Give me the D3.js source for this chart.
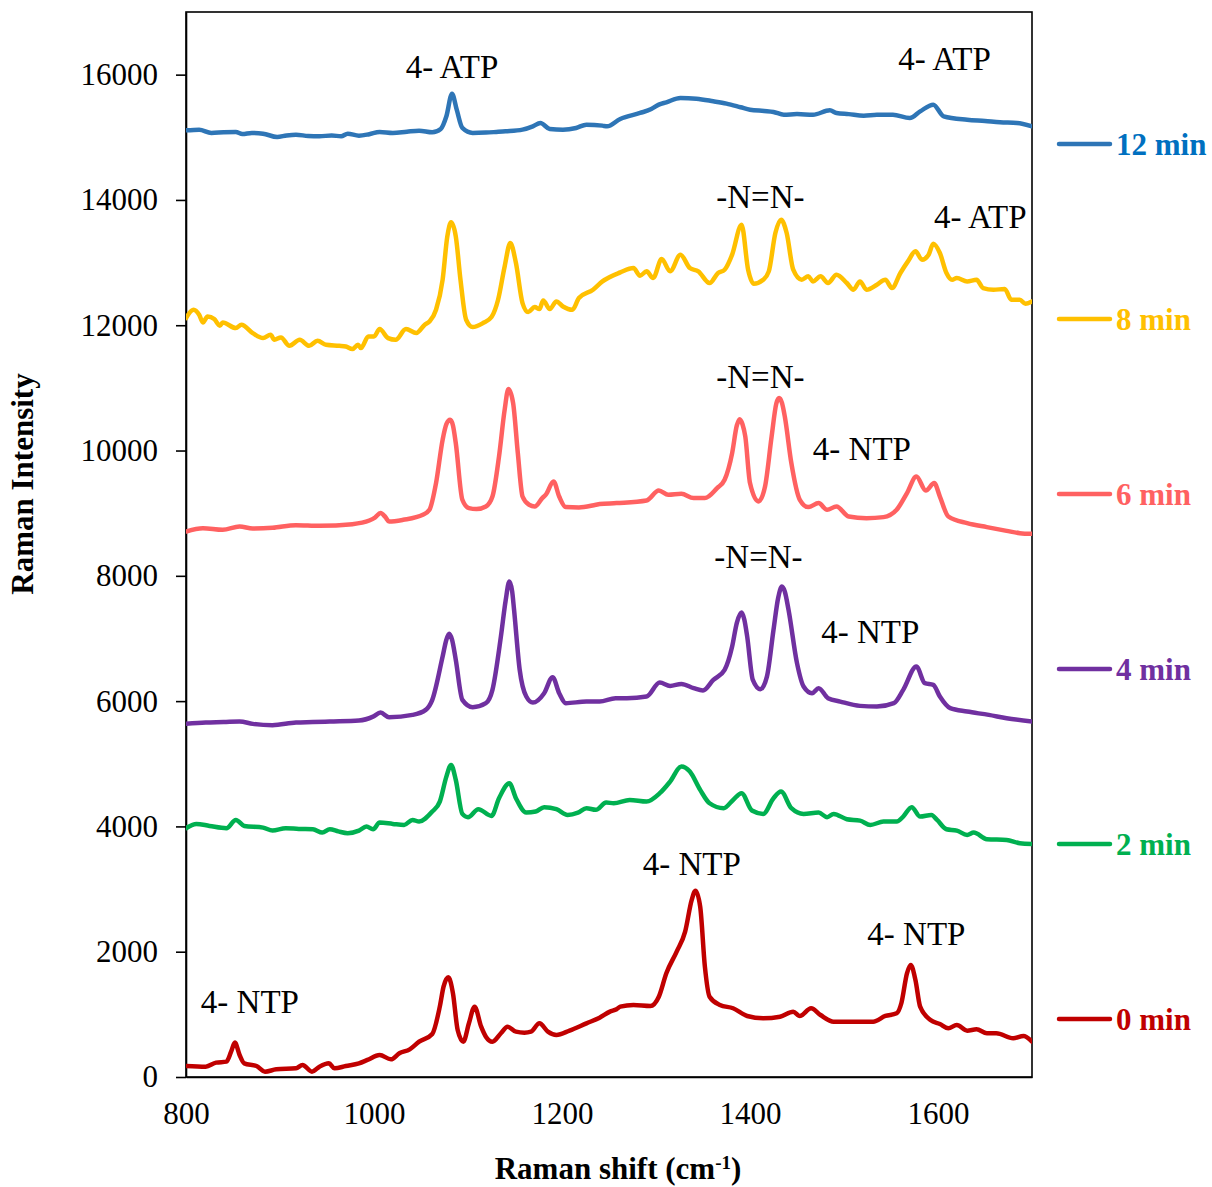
<!DOCTYPE html>
<html>
<head>
<meta charset="utf-8">
<script src="https://cdn.jsdelivr.net/npm/d3@7"></script>
<style>
  html, body { margin: 0; padding: 0; background: #ffffff; }
  svg { display: block; font-family: "Liberation Serif", "Times New Roman", serif; }
</style>
</head>
<body>
<svg id="chart" width="1212" height="1187"></svg>
<script>
// Raman spectra recorded at successive reaction times: [shift (cm-1), intensity]
const spectrum12min = [[800,15111],[814,15122],[827,15069],[840,15080],[853,15085],[860,15053],[870,15070],[882,15058],[897,15005],[907,15030],[917,15042],[930,15020],[942,15015],[955,15030],[965,15015],[972,15058],[984,15026],[995,15050],[1006,15085],[1020,15069],[1035,15090],[1048,15106],[1062,15080],[1071,15133],[1077,15335],[1083,15697],[1088,15441],[1094,15149],[1105,15069],[1119,15075],[1130,15085],[1140,15095],[1158,15122],[1169,15175],[1177,15228],[1187,15133],[1201,15122],[1215,15149],[1226,15202],[1243,15186],[1248,15175],[1262,15293],[1283,15388],[1295,15450],[1303,15521],[1311,15558],[1326,15628],[1343,15617],[1361,15575],[1375,15537],[1390,15480],[1400,15441],[1415,15420],[1425,15404],[1436,15361],[1450,15370],[1467,15361],[1485,15430],[1492,15388],[1505,15370],[1521,15345],[1535,15360],[1552,15361],[1570,15308],[1581,15414],[1595,15521],[1606,15335],[1631,15281],[1650,15260],[1666,15239],[1684,15228],[1700,15175]];

const spectrum8min = [[800,12115],[808,12247],[814,12168],[818,12045],[823,12141],[830,12099],[836,11992],[839,12045],[853,11955],[859,12008],[871,11875],[882,11795],[890,11848],[894,11768],[901,11805],[910,11672],[921,11768],[931,11672],[940,11752],[949,11688],[963,11672],[970,11661],[977,11619],[983,11688],[986,11635],[994,11821],[1000,11821],[1006,11939],[1015,11795],[1023,11768],[1034,11939],[1045,11875],[1054,12008],[1059,12061],[1066,12247],[1073,12726],[1078,13418],[1082,13642],[1087,13418],[1092,12726],[1098,12088],[1105,11971],[1116,12035],[1125,12131],[1132,12407],[1139,12939],[1145,13312],[1151,12993],[1158,12354],[1164,12210],[1171,12290],[1176,12258],[1180,12396],[1187,12258],[1194,12380],[1201,12300],[1211,12247],[1218,12434],[1233,12567],[1243,12700],[1262,12843],[1276,12913],[1283,12791],[1290,12860],[1297,12754],[1306,13057],[1315,12860],[1326,13126],[1336,12913],[1345,12860],[1357,12674],[1366,12834],[1373,12886],[1381,13126],[1391,13605],[1398,12886],[1404,12663],[1414,12726],[1420,12860],[1427,13472],[1433,13685],[1439,13472],[1446,12886],[1455,12726],[1462,12780],[1467,12700],[1475,12780],[1483,12674],[1492,12806],[1503,12674],[1510,12567],[1517,12700],[1524,12567],[1535,12647],[1544,12726],[1551,12594],[1560,12834],[1568,13019],[1576,13179],[1583,13046],[1590,13126],[1595,13302],[1602,13153],[1609,12834],[1615,12726],[1620,12754],[1631,12700],[1641,12726],[1648,12594],[1659,12567],[1671,12578],[1678,12407],[1687,12407],[1693,12343],[1700,12380]];

const spectrum6min = [[800,8707],[818,8761],[839,8734],[857,8787],[871,8755],[892,8766],[917,8809],[942,8798],[977,8825],[995,8883],[1001,8930],[1007,9001],[1012,8940],[1016,8867],[1031,8894],[1052,8974],[1059,9054],[1066,9480],[1073,10171],[1077,10420],[1081,10491],[1084,10400],[1087,10118],[1094,9214],[1101,9081],[1109,9065],[1119,9107],[1126,9266],[1133,9905],[1139,10651],[1143,10981],[1148,10757],[1153,9959],[1158,9266],[1165,9134],[1171,9107],[1179,9241],[1183,9300],[1191,9506],[1197,9266],[1204,9097],[1218,9091],[1236,9134],[1240,9145],[1258,9161],[1290,9203],[1303,9362],[1313,9293],[1327,9309],[1340,9241],[1352,9241],[1365,9400],[1373,9533],[1381,9959],[1386,10400],[1389,10501],[1392,10420],[1395,10224],[1400,9480],[1409,9187],[1416,9427],[1423,10224],[1428,10750],[1431,10837],[1434,10760],[1437,10544],[1444,9799],[1453,9214],[1462,9097],[1473,9161],[1482,9054],[1492,9107],[1505,8947],[1524,8921],[1542,8937],[1556,9054],[1567,9320],[1577,9586],[1587,9362],[1596,9480],[1602,9266],[1611,8947],[1631,8841],[1652,8777],[1673,8718],[1687,8681],[1700,8670]];

const spectrum4min = [[800,5637],[821,5658],[840,5665],[857,5674],[871,5637],[892,5616],[917,5658],[935,5665],[953,5674],[984,5690],[999,5753],[1007,5817],[1016,5743],[1041,5780],[1055,5860],[1062,6020],[1073,6711],[1077,6980],[1080,7074],[1083,6980],[1087,6659],[1094,6020],[1105,5903],[1119,5967],[1126,6180],[1135,7031],[1140,7600],[1144,7909],[1147,7750],[1149,7457],[1155,6499],[1162,6073],[1169,5977],[1181,6127],[1190,6382],[1197,6127],[1204,5967],[1226,5993],[1240,5993],[1257,6047],[1269,6047],[1290,6073],[1304,6296],[1315,6243],[1327,6275],[1340,6207],[1350,6169],[1361,6339],[1373,6499],[1381,6871],[1386,7250],[1391,7414],[1394,7300],[1397,7031],[1403,6339],[1411,6191],[1418,6392],[1425,7138],[1430,7650],[1434,7829],[1437,7750],[1441,7457],[1450,6606],[1457,6233],[1466,6127],[1473,6207],[1483,6047],[1496,5993],[1517,5924],[1535,5913],[1553,5967],[1563,6180],[1577,6552],[1586,6286],[1595,6259],[1602,6073],[1613,5887],[1631,5833],[1654,5780],[1673,5727],[1700,5674]];

const spectrum2min = [[800,3971],[811,4040],[825,4008],[843,3971],[853,4104],[862,4008],[882,3981],[892,3933],[906,3971],[920,3960],[935,3955],[945,3901],[953,3955],[962,3920],[972,3891],[984,3933],[992,3997],[999,3955],[1006,4061],[1020,4040],[1032,4024],[1041,4104],[1048,4077],[1062,4237],[1070,4396],[1077,4795],[1082,4982],[1087,4743],[1094,4200],[1100,4147],[1111,4275],[1125,4168],[1133,4450],[1144,4690],[1151,4450],[1162,4221],[1172,4237],[1181,4307],[1194,4275],[1206,4184],[1217,4221],[1226,4291],[1236,4264],[1247,4381],[1255,4370],[1272,4423],[1290,4397],[1304,4530],[1315,4716],[1327,4955],[1336,4875],[1347,4583],[1357,4370],[1372,4291],[1382,4423],[1391,4530],[1402,4253],[1414,4200],[1425,4450],[1433,4556],[1444,4291],[1457,4200],[1473,4221],[1482,4147],[1489,4200],[1503,4115],[1517,4093],[1528,4024],[1542,4077],[1556,4077],[1563,4157],[1572,4307],[1581,4157],[1593,4184],[1599,4104],[1609,3955],[1620,3933],[1631,3864],[1638,3901],[1652,3796],[1673,3784],[1687,3732],[1700,3721]];

const spectrum0min = [[800,176],[821,165],[832,229],[843,245],[848,405],[852,549],[857,351],[862,218],[875,176],[884,85],[896,122],[917,138],[924,192],[934,85],[942,165],[952,218],[958,138],[970,176],[984,218],[993,272],[1006,351],[1018,282],[1027,378],[1038,442],[1048,564],[1062,687],[1070,1123],[1074,1442],[1079,1592],[1084,1336],[1089,750],[1095,564],[1101,857],[1107,1123],[1114,803],[1119,644],[1126,564],[1135,698],[1142,803],[1151,724],[1160,708],[1167,724],[1176,857],[1185,724],[1194,671],[1208,740],[1226,857],[1240,947],[1251,1043],[1258,1081],[1262,1123],[1276,1150],[1294,1134],[1303,1282],[1311,1656],[1322,2001],[1331,2320],[1338,2826],[1342,2975],[1347,2720],[1352,1762],[1357,1282],[1368,1150],[1382,1097],[1397,974],[1414,937],[1432,963],[1446,1043],[1453,974],[1465,1097],[1475,990],[1489,883],[1510,883],[1531,883],[1544,974],[1556,1017],[1561,1177],[1567,1656],[1571,1788],[1576,1549],[1581,1123],[1592,910],[1602,846],[1611,777],[1620,830],[1631,740],[1641,761],[1652,698],[1662,698],[1680,618],[1691,655],[1700,564]];

// Series order, names and colours (legend runs top to bottom)
const seriesNames  = ["12 min", "8 min", "6 min", "4 min", "2 min", "0 min"];
const seriesData   = [spectrum12min, spectrum8min, spectrum6min, spectrum4min, spectrum2min, spectrum0min];
const seriesColors = ["#2E75B6", "#FFC000", "#FF6161", "#7030A0", "#00B050", "#C00000"];
const labelColors  = ["#0070C0", "#FFC000", "#FF6161", "#7030A0", "#00B050", "#C00000"];

// Axis ticks
const xTicks = [800, 1000, 1200, 1400, 1600];
const yTicks = [0, 2000, 4000, 6000, 8000, 10000, 12000, 14000, 16000];

// Band assignments: label text, shift and intensity where the label sits
const bandLabels  = ["4- ATP", "4- ATP", "-N=N-", "4- ATP", "-N=N-", "4- NTP", "-N=N-", "4- NTP", "4- NTP", "4- NTP", "4- NTP"];
const bandShifts  = [1083, 1607, 1411, 1645, 1411, 1519, 1409, 1528, 1338, 1577, 868];
const bandHeights = [15950, 16080, 13870, 13550, 11000, 9850, 8120, 6930, 3230, 2110, 1020];

const svg = d3.select("#chart");
const margin = { left: 186, right: 180, top: 12, bottom: 110 };
const W = 1212, H = 1187;

const x = d3.scaleLinear().domain([800, 1700]).range([margin.left, W - margin.right]);
const y = d3.scaleLinear().domain([0, 17000]).range([H - margin.bottom, margin.top]);

svg.append("rect").attr("width", W).attr("height", H).attr("fill", "#fff");

// Plot frame
svg.append("rect")
  .attr("x", x(800)).attr("y", y(17000))
  .attr("width", x(1700) - x(800)).attr("height", y(0) - y(17000))
  .attr("fill", "none").attr("stroke", "#000").attr("stroke-width", 1.6);

// Y axis
const yAxis = svg.append("g")
  .attr("transform", `translate(${x(800)},0)`)
  .call(d3.axisLeft(y).tickValues(yTicks).tickFormat(d3.format("d")).tickSize(10).tickSizeOuter(0).tickPadding(18));
yAxis.select(".domain").attr("stroke", "#000").attr("stroke-width", 1.6);
yAxis.selectAll(".tick line").attr("stroke", "#000").attr("stroke-width", 1.6);
yAxis.selectAll(".tick text").attr("font-size", 31).attr("fill", "#000")
  .attr("font-family", "Liberation Serif");

// X axis
const xAxis = svg.append("g")
  .attr("transform", `translate(0,${y(0)})`)
  .call(d3.axisBottom(x).tickValues(xTicks).tickFormat(d3.format("d")).tickSize(0).tickPadding(25));
xAxis.select(".domain").attr("stroke", "#000").attr("stroke-width", 1.6);
xAxis.selectAll(".tick text").attr("font-size", 31).attr("fill", "#000")
  .attr("font-family", "Liberation Serif");

// Axis titles
svg.append("text")
  .attr("x", 618).attr("y", 1179)
  .attr("text-anchor", "middle")
  .attr("font-size", 31).attr("font-weight", "bold")
  .html('Raman shift (cm<tspan baseline-shift="super" font-size="19">-1</tspan>)');

svg.append("text")
  .attr("transform", "translate(33,484) rotate(-90)")
  .attr("text-anchor", "middle")
  .attr("font-size", 31).attr("font-weight", "bold")
  .text("Raman Intensity");

// Spectra
const line = d3.line()
  .x(d => x(d[0]))
  .y(d => y(d[1]))
  .curve(d3.curveMonotoneX);

svg.append("clipPath").attr("id", "plot-clip")
  .append("rect")
  .attr("x", x(800)).attr("y", y(17000))
  .attr("width", x(1700) - x(800)).attr("height", y(0) - y(17000));

svg.append("g").attr("clip-path", "url(#plot-clip)")
  .selectAll("path")
  .data(seriesData)
  .join("path")
  .attr("d", line)
  .attr("fill", "none")
  .attr("stroke", (d, i) => seriesColors[i])
  .attr("stroke-width", 4.5)
  .attr("stroke-linejoin", "round")
  .attr("stroke-linecap", "round");

// Band labels
svg.append("g")
  .selectAll("text")
  .data(bandLabels)
  .join("text")
  .attr("x", (d, i) => x(bandShifts[i]))
  .attr("y", (d, i) => y(bandHeights[i]))
  .attr("text-anchor", "middle")
  .attr("font-size", 33)
  .attr("fill", "#000")
  .text(d => d);

// Legend at right
const legendY = d3.scalePoint().domain(seriesNames).range([144, 1019]);
const legend = svg.append("g")
  .selectAll("g")
  .data(seriesNames)
  .join("g")
  .attr("transform", d => `translate(0,${legendY(d)})`);

legend.append("line")
  .attr("x1", 1059).attr("x2", 1110)
  .attr("stroke", (d, i) => seriesColors[i])
  .attr("stroke-width", 4.5)
  .attr("stroke-linecap", "round");

legend.append("text")
  .attr("x", 1116).attr("y", 10.5)
  .attr("font-size", 31).attr("font-weight", "bold")
  .attr("fill", (d, i) => labelColors[i])
  .text(d => d);
</script>
</body>
</html>
